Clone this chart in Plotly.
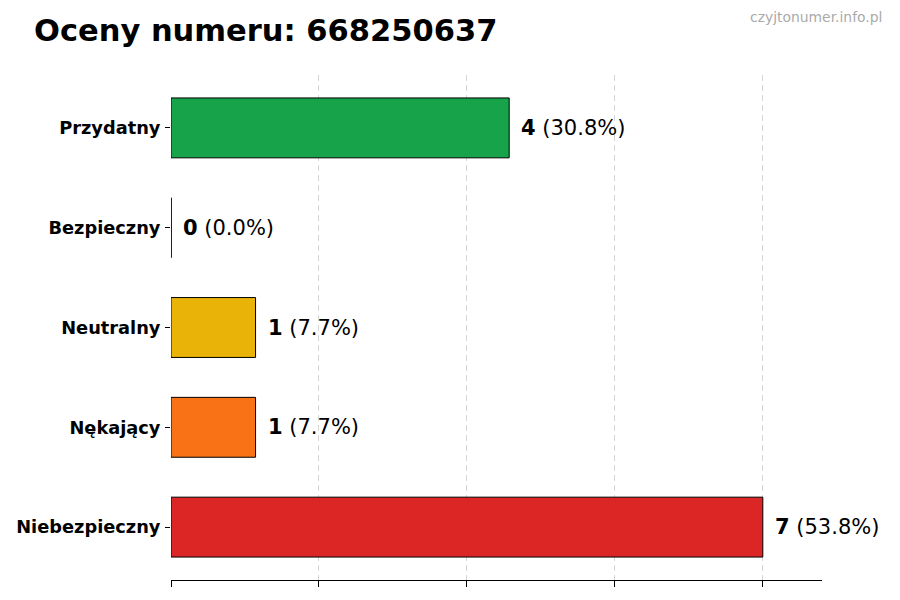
import plotly.graph_objects as go

# ratings, listed bottom -> top as drawn
categories = ["Niebezpieczny", "Nękający", "Neutralny", "Bezpieczny", "Przydatny"]
counts = [7, 1, 1, 0, 4]
colors = ["#dc2626", "#f97316", "#eab308", "#3b82f6", "#16a34a"]
x_ticks = [0, 1.75, 3.5, 5.25, 7]

title = "Oceny numeru: 668250637"
watermark = "czyjtonumer.info.pl"

total = sum(counts)
ypos = list(range(len(categories)))
font = "DejaVu Sans"

# page body adds 8px margin, so place everything 8px up/left
OFF = 8
W, H = 900, 600
left, right, top, bottom = 171 - OFF, 822 - OFF, 75 - OFF, 580 - OFF

fig = go.Figure()
fig.add_trace(go.Bar(
    x=counts,
    y=ypos,
    orientation="h",
    width=0.6,
    marker=dict(color=colors, line=dict(color="black", width=1)),
    hoverinfo="skip",
))

# zero-count bars collapse to a thin edge line
for y, v in zip(ypos, counts):
    if v == 0:
        fig.add_shape(type="line", xref="x", yref="y", x0=0, x1=0,
                      y0=y - 0.3, y1=y + 0.3, line=dict(color="black", width=1))

# value labels next to the bars
for y, v in zip(ypos, counts):
    pct = 100.0 * v / total
    fig.add_annotation(
        x=v, y=y, xref="x", yref="y",
        text="<b>%d</b> (%.1f%%)" % (v, pct),
        showarrow=False, xanchor="left", yanchor="middle", xshift=10,
        font=dict(family=font, size=21, color="black"),
    )

fig.add_annotation(
    xref="paper", yref="paper",
    x=(884 - OFF - left) / (right - left), y=(bottom - (17 - OFF)) / (bottom - top),
    text=watermark, showarrow=False, xanchor="right", yanchor="middle",
    font=dict(family=font, size=13.9, color="#aaaaaa"),
)

fig.update_layout(
    width=W, height=H,
    margin=dict(l=left, r=W - right, t=top, b=H - bottom, autoexpand=False),
    paper_bgcolor="white", plot_bgcolor="white",
    showlegend=False,
    title=dict(text="<b>%s</b>" % title, x=(34 - OFF) / W, xanchor="left",
               xref="container", y=1 - (30 - OFF) / H, yanchor="middle",
               font=dict(family=font, size=30.5, color="black")),
)

fig.update_xaxes(
    range=[0, 7.7], tickvals=x_ticks, showticklabels=False,
    ticks="outside", ticklen=6, tickcolor="black",
    showline=True, linecolor="black", linewidth=1.2,
    showgrid=True, gridcolor="#d6d6d6", griddash="6px,4px", gridwidth=1,
    zeroline=False, automargin=False,
)
fig.update_yaxes(
    range=[-0.53, 4.53], tickvals=ypos,
    ticktext=["<b>%s</b>" % c for c in categories],
    ticks="outside", ticklen=5, tickcolor="black", ticklabelstandoff=1,
    showline=False, showgrid=False, zeroline=False, automargin=False,
    tickfont=dict(family=font, size=17.8, color="black"),
)

fig.write_html("out.html")
